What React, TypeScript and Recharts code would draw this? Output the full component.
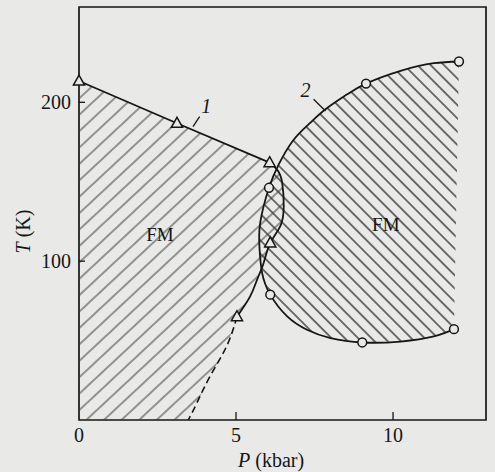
import React from 'react';
import {
  ComposedChart,
  Scatter,
  XAxis,
  YAxis,
  ReferenceArea,
  ReferenceDot,
  ReferenceLine,
} from 'recharts';

// ---- data (P in kbar, T in K) ----
const X_DOMAIN: [number, number] = [0, 12.96];
const Y_DOMAIN: [number, number] = [0, 260];
const xTicks = [0, 5, 10];
const yTicks = [100, 200];

// curve 1 measured points (triangles)
const triangles = [
  { P: 0, T: 213.4 },
  { P: 3.12, T: 186.8 },
  { P: 6.07, T: 162 },
  { P: 6.09, T: 111.5 },
  { P: 5.03, T: 65 },
];

// curve 2 measured points (circles)
const circles = [
  { P: 12.1, T: 225.7 },
  { P: 9.14, T: 211.8 },
  { P: 6.05, T: 146.2 },
  { P: 6.09, T: 78.9 },
  { P: 9.02, T: 48.8 },
  { P: 11.94, T: 57.2 },
];

// curve 1: upper straight branch
const curve1Top = [
  { P: 0, T: 213.4 },
  { P: 3.12, T: 186.8 },
  { P: 6.07, T: 162 },
];
// curve 1: right boundary (solid)
const curve1Right = [
  { P: 6.07, T: 162 },
  { P: 6.33, T: 157 },
  { P: 6.47, T: 149.3 },
  { P: 6.52, T: 134.6 },
  { P: 6.41, T: 122 },
  { P: 6.09, T: 111.5 },
  { P: 5.88, T: 98.9 },
  { P: 5.67, T: 88.3 },
  { P: 5.45, T: 77.8 },
  { P: 5.03, T: 65 },
];
// curve 1: extrapolated (dashed)
const curve1Dash = [
  { P: 5.03, T: 65 },
  { P: 4.7, T: 46.4 },
  { P: 4.17, T: 27.4 },
  { P: 3.75, T: 10.6 },
  { P: 3.48, T: 0 },
];
// curve 2 boundary
const curve2 = [
  { P: 12.1, T: 225.7 },
  { P: 11.3, T: 224.6 },
  { P: 10.24, T: 219.8 },
  { P: 9.14, T: 211.8 },
  { P: 8.54, T: 205 },
  { P: 7.85, T: 195.6 },
  { P: 7.31, T: 186.1 },
  { P: 6.8, T: 175.5 },
  { P: 6.36, T: 160.9 },
  { P: 6.05, T: 146.2 },
  { P: 5.77, T: 124.1 },
  { P: 5.75, T: 107.3 },
  { P: 5.83, T: 92.6 },
  { P: 6.09, T: 78.9 },
  { P: 6.63, T: 65.2 },
  { P: 7.26, T: 56.8 },
  { P: 8.01, T: 51.5 },
  { P: 9.02, T: 48.8 },
  { P: 10.24, T: 49.4 },
  { P: 11.3, T: 52.6 },
  { P: 11.94, T: 57.2 },
];
const origin = [{ P: 0, T: 0 }];

// region polygons built from the curves
const region1 = [...curve1Top, ...curve1Right.slice(1), ...curve1Dash.slice(1), ...origin];
const region2 = [...curve2];

// labels
const regionLabels = [
  { P: 2.58, T: 116.7, text: 'FM' },
  { P: 9.77, T: 123.2, text: 'FM' },
];
const curveLabels = [
  { P: 4.05, T: 197.5, text: '1' },
  { P: 7.21, T: 208, text: '2' },
];
const leaders = [
  [{ x: 3.84, y: 191 }, { x: 3.63, y: 184.7 }],
  [{ x: 7.47, y: 201.9 }, { x: 7.85, y: 194.5 }],
];

// ---- style ----
const BG = '#e9e9e7';
const INK = '#161616';
const HATCH = '#3a3a3a';
const FONT = '"Liberation Serif", "Times New Roman", serif';

const noShape = () => <g />;

const fillLine = (id: string) => (props: any) => {
  const pts = props.points || [];
  if (!pts.length) return <g />;
  const d = pts.map((p: any, i: number) => `${i ? 'L' : 'M'}${p.x},${p.y}`).join(' ') + ' Z';
  return <path d={d} fill={`url(#${id})`} stroke="none" />;
};

const TriangleShape = (props: any) => {
  const { cx, cy } = props;
  if (cx == null || cy == null) return <g />;
  const d = `M${cx},${cy - 6} L${cx + 5.6},${cy + 4} L${cx - 5.6},${cy + 4} Z`;
  return <path d={d} fill={BG} stroke={INK} strokeWidth={1.5} strokeLinejoin="miter" />;
};

const CircleShape = (props: any) => {
  const { cx, cy } = props;
  if (cx == null || cy == null) return <g />;
  return <circle cx={cx} cy={cy} r={4.4} fill={BG} stroke={INK} strokeWidth={1.5} />;
};

const XTick = (props: any) => {
  const { x, y, payload } = props;
  return (
    <g>
      {payload.value !== 0 && (
        <line x1={x} x2={x} y1={y} y2={y - 8} stroke={INK} strokeWidth={1.3} />
      )}
      <text x={x} y={y + 22} textAnchor="middle" fontFamily={FONT} fontSize={20} fill={INK}>
        {payload.value}
      </text>
    </g>
  );
};

const YTick = (props: any) => {
  const { x, y, payload } = props;
  return (
    <g>
      <line x1={x} x2={x + 6} y1={y} y2={y} stroke={INK} strokeWidth={1.3} />
      <text x={x - 8} y={y + 7} textAnchor="end" fontFamily={FONT} fontSize={20} fill={INK}>
        {payload.value}
      </text>
    </g>
  );
};

const RTick = (props: any) => {
  const { x, y } = props;
  return <line x1={x} x2={x - 6} y1={y} y2={y} stroke={INK} strokeWidth={1.3} />;
};

const XTitle = (props: any) => {
  const vb = props.viewBox || { x: 79, y: 420, width: 407, height: 52 };
  const x = vb.x + vb.width * 0.472;
  const y = vb.y + 47;
  return (
    <text x={x} y={y} textAnchor="middle" fontFamily={FONT} fontSize={20} fill={INK}>
      <tspan fontStyle="italic">P</tspan> (kbar)
    </text>
  );
};

const YTitle = (props: any) => {
  const vb = props.viewBox || { x: 0, y: 7, width: 79, height: 413 };
  const cx = vb.x + 23;
  const cy = vb.y + vb.height / 2 + 18;
  return (
    <text
      x={cx}
      y={cy}
      transform={`rotate(-90 ${cx} ${cy})`}
      textAnchor="middle"
      dominantBaseline="central"
      fontFamily={FONT}
      fontSize={20}
      fill={INK}
    >
      <tspan fontStyle="italic">T</tspan> (K)
    </text>
  );
};

const makeTextShape = (text: string, italic: boolean, size: number) => (props: any) => {
  const { cx, cy } = props;
  return (
    <text
      x={cx}
      y={cy}
      textAnchor="middle"
      dominantBaseline="central"
      fontFamily={FONT}
      fontSize={size}
      fontStyle={italic ? 'italic' : 'normal'}
      fill={INK}
    >
      {text}
    </text>
  );
};

export default function App() {
  return (
    <div
      style={{
        position: 'fixed',
        left: 0,
        top: 0,
        width: 495,
        height: 472,
        background: BG,
        overflow: 'hidden',
      }}
    >
      <svg width={0} height={0} style={{ position: 'absolute' }}>
        <defs>
          <pattern
            id="hatchL"
            patternUnits="userSpaceOnUse"
            width={40}
            height={12}
            patternTransform="rotate(-43)"
          >
            <line x1={0} y1={6} x2={40} y2={6} stroke={HATCH} strokeWidth={1.2} />
          </pattern>
          <pattern
            id="hatchR"
            patternUnits="userSpaceOnUse"
            width={40}
            height={9.4}
            patternTransform="rotate(45)"
          >
            <line x1={0} y1={4.7} x2={40} y2={4.7} stroke={HATCH} strokeWidth={1.2} />
          </pattern>
        </defs>
      </svg>
      <ComposedChart width={495} height={472} margin={{ top: 7, right: 0, bottom: 0, left: 0 }}>
        <XAxis
          dataKey="P"
          type="number"
          domain={X_DOMAIN}
          ticks={xTicks}
          interval={0}
          height={52}
          tickSize={0}
          tickMargin={0}
          tickLine={false}
          axisLine={false}
          tick={XTick}
          label={{ content: XTitle }}
        />
        <YAxis
          dataKey="T"
          type="number"
          domain={Y_DOMAIN}
          ticks={yTicks}
          interval={0}
          width={79}
          tickSize={0}
          tickMargin={0}
          tickLine={false}
          axisLine={false}
          tick={YTick}
          label={{ content: YTitle }}
        />
        <YAxis
          yAxisId="r"
          orientation="right"
          type="number"
          domain={Y_DOMAIN}
          ticks={yTicks}
          interval={0}
          width={9}
          tickSize={0}
          tickMargin={0}
          tickLine={false}
          axisLine={false}
          tick={RTick}
        />

        <Scatter data={region1} dataKey="T" shape={noShape} line={fillLine('hatchL')} isAnimationActive={false} />
        <Scatter data={region2} dataKey="T" shape={noShape} line={fillLine('hatchR')} isAnimationActive={false} />

        <ReferenceArea
          x1={X_DOMAIN[0]}
          x2={X_DOMAIN[1]}
          y1={Y_DOMAIN[0]}
          y2={Y_DOMAIN[1]}
          fill="none"
          fillOpacity={0}
          stroke={INK}
          strokeWidth={1.7}
          ifOverflow="visible"
        />

        <Scatter data={curve1Top} dataKey="T" shape={noShape} line={{ stroke: INK, strokeWidth: 1.8 }} lineJointType="linear" isAnimationActive={false} />
        <Scatter data={curve1Right} dataKey="T" shape={noShape} line={{ stroke: INK, strokeWidth: 1.8 }} lineJointType="natural" isAnimationActive={false} />
        <Scatter data={curve1Dash} dataKey="T" shape={noShape} line={{ stroke: INK, strokeWidth: 1.6, strokeDasharray: '7 4' }} lineJointType="natural" isAnimationActive={false} />
        <Scatter data={curve2} dataKey="T" shape={noShape} line={{ stroke: INK, strokeWidth: 1.8 }} lineJointType="natural" isAnimationActive={false} />

        {leaders.map((seg, i) => (
          <ReferenceLine key={`ld${i}`} segment={seg} stroke={INK} strokeWidth={1.3} ifOverflow="visible" />
        ))}

        <Scatter data={triangles} dataKey="T" shape={TriangleShape} isAnimationActive={false} />
        <Scatter data={circles} dataKey="T" shape={CircleShape} isAnimationActive={false} />

        {regionLabels.map((l, i) => (
          <ReferenceDot key={`rl${i}`} x={l.P} y={l.T} r={0} ifOverflow="visible" shape={makeTextShape(l.text, false, 19)} />
        ))}
        {curveLabels.map((l, i) => (
          <ReferenceDot key={`cl${i}`} x={l.P} y={l.T} r={0} ifOverflow="visible" shape={makeTextShape(l.text, true, 20)} />
        ))}
      </ComposedChart>
    </div>
  );
}
